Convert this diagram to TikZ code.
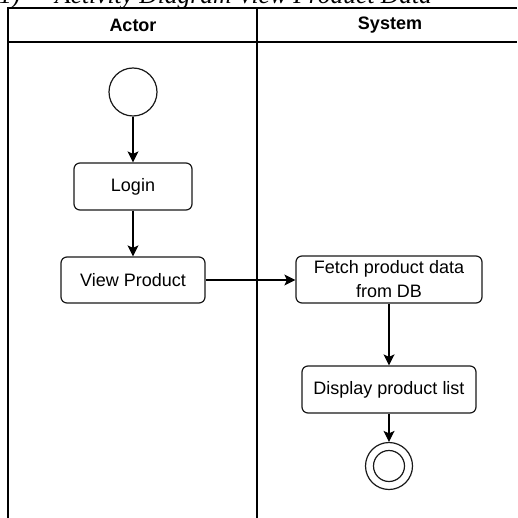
\documentclass[tikz,border=0pt]{standalone}
\usepackage{fontspec}
\setmainfont{Liberation Sans}
\newfontfamily\titlefont{Liberation Serif}
\usetikzlibrary{arrows.meta}
\begin{document}
\begin{tikzpicture}[x=1pt,y=-1pt,
  lane/.style={draw=black,line width=1.3pt},
  act/.style={draw=black!90,line width=1.2pt,rounded corners=6pt,fill=white,
    font=\fontsize{18}{24}\selectfont,text=black,align=center,inner sep=0pt},
  startnode/.style={circle,draw=black!90,line width=1.2pt,minimum size=48pt,inner sep=0pt},
  endnode/.style={circle,draw=black!90,line width=1.2pt,minimum size=47pt,inner sep=0pt},
  flow/.style={draw=black,line width=1.2pt,-{Stealth[length=11pt,width=11pt,inset=2.5pt]}},
  hdr/.style={font=\bfseries\fontsize{18}{22}\selectfont,text=black,inner sep=0pt}
]
\useasboundingbox (0,0) rectangle (517,518);
\fill[white] (0,0) rectangle (517,518);
% title (cut off at the top, as in the reference)
\node[anchor=base west,inner sep=0pt,font=\titlefont\itshape\fontsize{25.5}{30}\selectfont] (title) at (-1,3.5)
  {\makebox[56pt][l]{1)}Activity Diagram View Product Data};
% swimlanes
\draw[lane] (517,8) -- (8,8) -- (8,518);
\draw[lane] (8,42) -- (517,42);
\draw[lane] (257,8) -- (257,518);
\node[hdr] (actor) at (133,25) {Actor};
\node[hdr] (system) at (390,25) {System};
% nodes
\node[startnode] (start) at (133,92) {};
\node[act,minimum width=118pt,minimum height=47pt] (login) at (133,186.5) {Login};
\node[act,minimum width=144pt,minimum height=46pt] (view) at (133,280) {View Product};
\node[act,minimum width=186pt,minimum height=47pt] (fetch) at (389,279.5) {Fetch product data\\from DB};
\node[act,minimum width=174pt,minimum height=47pt] (display) at (389,389.5) {Display product list};
\node[endnode] (end) at (389,466) {};
\draw[draw=black!90,line width=1.2pt] (end.center) circle (15.5);
% flows
\draw[flow] (start) -- (login);
\draw[flow] (login) -- (view);
\draw[flow] (view.east) -- (view.east -| fetch.west);
\draw[flow] (fetch) -- (display);
\draw[flow] (display) -- (end);
\end{tikzpicture}
\end{document}
